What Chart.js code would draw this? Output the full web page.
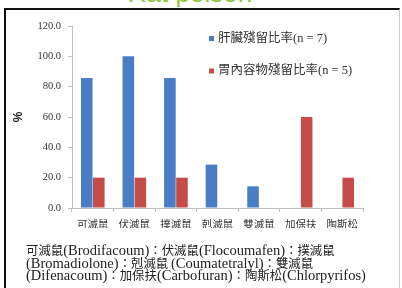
<!DOCTYPE html>
<html>
<head>
<meta charset="utf-8">
<script src="https://cdn.jsdelivr.net/npm/chart.js@4/dist/chart.umd.min.js"></script>
<style>
html,body{margin:0;padding:0;background:#fff;width:402px;height:288px;overflow:hidden;position:relative;}
#title{position:absolute;left:0;width:380px;top:-20px;text-align:center;font-family:"Liberation Sans",Arial,sans-serif;font-size:26px;color:#8DC63F;line-height:26px;}
#frame{position:absolute;left:4px;top:8px;width:396px;height:290px;border-left:2.5px solid #111;border-top:2.5px solid #111;border-right:1px solid #ccc;box-sizing:border-box;}
#wrap{position:absolute;left:0;top:0;width:402px;height:288px;}
#note{position:absolute;left:26px;top:244px;font-family:"Liberation Serif",serif;font-size:14.5px;color:#222;white-space:nowrap;}
#note div{height:12.6px;line-height:12.6px;}
#note span{font-family:"Noto Sans CJK TC",sans-serif;font-size:12.4px;}
</style>
</head>
<body>
<div id="title">Rat poison</div>
<div id="frame"></div>
<div id="wrap"><canvas id="c" width="402" height="288"></canvas></div>
<div id="note">
<div><span>可滅鼠</span>(Brodifacoum)<span>：伏滅鼠</span>(Flocoumafen)<span>：撲滅鼠</span></div>
<div>(Bromadiolone)<span>：剋滅鼠 </span>(Coumatetralyl)<span>：雙滅鼠</span></div>
<div>(Difenacoum)<span>：加保扶</span>(Carbofuran)<span>：陶斯松</span>(Chlorpyrifos)</div>
</div>
<script>
const categories = ["可滅鼠","伏滅鼠","撲滅鼠","剋滅鼠","雙滅鼠","加保扶","陶斯松"];
const liverLabel = "肝臟殘留比率(n = 7)";
const liverValues = [85.7, 100.0, 85.7, 28.6, 14.3, 0, 0];
const stomachLabel = "胃內容物殘留比率(n = 5)";
const stomachValues = [20.0, 20.0, 20.0, 0, 0, 60.0, 20.0];
const yTicks = [0, 20, 40, 60, 80, 100, 120];

const insideLegend = {
  id: 'insideLegend',
  afterDraw(chart) {
    const ctx = chart.ctx;
    ctx.save();
    const x0 = 209, ys = [38.5, 71];
    chart.data.datasets.forEach((ds, i) => {
      ctx.fillStyle = ds.backgroundColor;
      ctx.fillRect(x0, ys[i] - 2.5, 5, 5);
      ctx.fillStyle = '#333';
      ctx.font = '12.5px "Liberation Serif","Noto Sans CJK TC",serif';
      ctx.textBaseline = 'middle';
      ctx.textAlign = 'left';
      ctx.fillText(ds.label, x0 + 9, ys[i]);
    });
    ctx.restore();
  }
};

new Chart(document.getElementById('c'), {
  type: 'bar',
  data: {
    labels: categories,
    datasets: [
      {label: liverLabel, data: liverValues, backgroundColor: '#4A7EC4'},
      {label: stomachLabel, data: stomachValues, backgroundColor: '#C44D4A'}
    ]
  },
  options: {
    responsive: false,
    animation: false,
    devicePixelRatio: 1,
    categoryPercentage: 0.58,
    barPercentage: 0.96,
    layout: {padding: {left: 0, top: 26, right: 39, bottom: 60}},
    plugins: {legend: {display: false}, tooltip: {enabled: false}, title: {display: false}},
    scales: {
      x: {
        grid: {display: true, drawOnChartArea: false, drawTicks: true, tickLength: 4, color: '#BFBFBF', offset: true},
        border: {color: '#BFBFBF'},
        ticks: {color: '#333', padding: 6, font: {family: '"Noto Sans CJK TC", serif', size: 10.5}, maxRotation: 0, autoSkip: false},
        afterFit(s) { s.height = 20; }
      },
      y: {
        min: 0, max: 120,
        afterBuildTicks(s) { s.ticks = yTicks.map(v => ({value: v})); },
        grid: {display: true, drawOnChartArea: false, drawTicks: true, tickLength: 4, color: '#BFBFBF'},
        border: {color: '#BFBFBF'},
        ticks: {color: '#333', padding: 7, font: {family: '"Liberation Serif", serif', size: 10.5}, callback: v => Number(v).toFixed(1)},
        title: {display: true, text: '%', color: '#222', font: {family: '"Liberation Sans", sans-serif', size: 12, weight: 'bold'}, padding: {top: 11, bottom: 0}},
        afterFit(s) { s.width = 72; }
      }
    }
  },
  plugins: [insideLegend]
});
</script>
</body>
</html>
